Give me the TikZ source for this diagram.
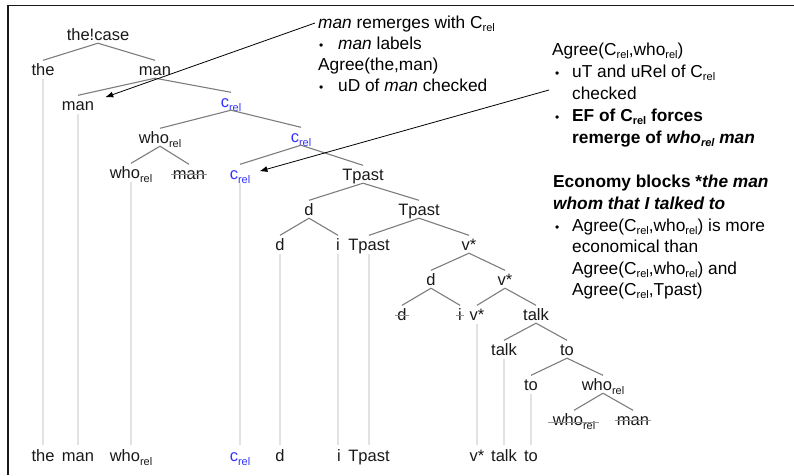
\documentclass[tikz,border=0pt]{standalone}
\usepackage{fontspec}
\setmainfont{Liberation Sans}
\usetikzlibrary{arrows.meta}
\definecolor{relblue}{RGB}{50,50,255}
\definecolor{branchgray}{RGB}{125,125,125}
\definecolor{strikegray}{RGB}{150,150,150}
\definecolor{vgray}{RGB}{226,226,226}
\definecolor{ink}{RGB}{25,25,25}
\newcommand{\tsub}[1]{\raisebox{-4.5pt}{\fontsize{11}{11}\selectfont #1}}
\newcommand{\psub}[1]{\raisebox{-3.5pt}{\fontsize{11}{11}\selectfont #1}}
\newcommand{\bul}{{\fontsize{12}{12}\selectfont\textbullet}}
\begin{document}
\begin{tikzpicture}[x=1pt,y=-1pt,
 tn/.style={font=\fontsize{16.5}{18}\selectfont, text=ink, anchor=base, inner xsep=1pt, inner ysep=0pt, text height=14.5pt, text depth=3pt},
 bluen/.style={tn, text=relblue},
 br/.style={draw=branchgray, line width=1.1pt},
 vl/.style={draw=vgray, line width=1.8pt},
 sk/.style={draw=strikegray, line width=0.8pt},
 txt/.style={font=\fontsize{17.3}{20}\selectfont, anchor=base west, inner sep=0pt, text=black},
 arr/.style={draw=black, line width=0.8pt, -{Latex[length=8pt,width=6pt]}}
]
\useasboundingbox (0,0) rectangle (794,475);
\draw[line width=1.5pt, ink] (8,475) -- (8,5.5) -- (794,5.5);

% tree nodes
\node[tn] (thecase) at (98,40) {the!case};
\node[tn] (the1) at (43,75) {the};
\node[tn] (man1) at (155,75) {man};
\node[tn] (man2) at (78,110) {man};
\node[bluen] (crel2) at (231,107) {c\tsub{rel}};
\node[tn] (who3) at (160,143) {who\tsub{rel}};
\node[bluen] (crel3) at (301,142) {c\tsub{rel}};
\node[tn] (who4) at (131,178) {who\tsub{rel}};
\node[tn] (man4) at (189,179) {man};
\node[bluen] (crel4) at (240,179) {c\tsub{rel}};
\node[tn] (tp4) at (363,180) {Tpast};
\node[tn] (d5) at (309,215) {d};
\node[tn] (tp5) at (419,215) {Tpast};
\node[tn] (d6) at (280,250) {d};
\node[tn] (i6) at (338,250) {i};
\node[tn] (tp6) at (369,250) {Tpast};
\node[tn] (v6) at (469,250) {v*};
\node[tn] (d7) at (431,285) {d};
\node[tn] (v7) at (505,285) {v*};
\node[tn] (d8) at (402,320) {d};
\node[tn] (i8) at (460,320) {i};
\node[tn] (v8) at (477,320) {v*};
\node[tn] (talk8) at (536,320) {talk};
\node[tn] (talk9) at (504,355) {talk};
\node[tn] (to9) at (567,355) {to};
\node[tn] (to10) at (531,390) {to};
\node[tn] (who10) at (603,390) {who\tsub{rel}};
\node[tn] (who11) at (574,425) {who\tsub{rel}};
\node[tn] (man11) at (633,425) {man};

% bottom row
\node[tn] (bthe) at (43,461) {the};
\node[tn] (bman) at (78,461) {man};
\node[tn] (bwho) at (131,461) {who\tsub{rel}};
\node[bluen] (bcrel) at (240,461) {c\tsub{rel}};
\node[tn] (bd) at (280,461) {d};
\node[tn] (bi) at (339,461) {i};
\node[tn] (btp) at (369,461) {Tpast};
\node[tn] (bv) at (477,461) {v*};
\node[tn] (btalk) at (504,461) {talk};
\node[tn] (bto) at (531,461) {to};

% branches
\foreach \p/\c in {thecase/the1, thecase/man1, man1/man2, man1/crel2, crel2/who3, crel2/crel3,
  who3/who4, who3/man4, crel3/crel4, crel3/tp4, tp4/d5, tp4/tp5, d5/d6, d5/i6, tp5/tp6, tp5/v6,
  v6/d7, v6/v7, d7/d8, d7/i8, v7/v8, v7/talk8, talk8/talk9, talk8/to9, to9/to10, to9/who10,
  who10/who11, who10/man11}
  \draw[br] (\p.south) -- (\c.north);

% vertical traces
\foreach \p/\c in {the1/bthe, man2/bman, who4/bwho, crel4/bcrel, d6/bd, i6/bi, tp6/btp, v8/bv, talk9/btalk, to10/bto}
  \draw[vl] ([yshift=-1pt]\p.south) -- ([yshift=1pt]\p.south |- \c.north);

% strike-throughs
\foreach \n in {man4, d8, i8, man11}
  \draw[sk] ([xshift=-1pt,yshift=4.5pt]\n.base west) -- ([xshift=1pt,yshift=4.5pt]\n.base east);
\draw[sk] ([xshift=-4pt,yshift=3pt]who11.base west) -- ([xshift=3pt,yshift=3pt]who11.base east);

% text block 1
\node[txt] (t1a) at (318,28) {\textit{man} remerges with C\psub{rel}};
\node[txt] (t1bb) at (319,49) {\bul};
\node[txt] (t1b) at (338,49) {\textit{man} labels};
\node[txt] (t1c) at (318,70) {Agree(the,man)};
\node[txt] (t1db) at (319,91) {\bul};
\node[txt] (t1d) at (338,91) {uD of \textit{man} checked};

% text block 2
\node[txt] (t2a) at (552,55) {Agree(C\psub{rel},who\psub{rel})};
\node[txt] (t2bb) at (555,77) {\bul};
\node[txt] (t2b) at (572,77) {uT and uRel of C\psub{rel}};
\node[txt] (t2c) at (572,99) {checked};
\node[txt] (t2db) at (555,121) {\bul};
\node[txt] (t2d) at (572,121) {\textbf{EF of C\psub{rel} forces}};
\node[txt] (t2e) at (572,143) {\textbf{remerge of \textit{who\psub{rel}} \textit{man}}};

% text block 3
\node[txt] (t3a) at (553,187) {\textbf{Economy blocks *\textit{the man}}};
\node[txt] (t3b) at (553,209) {\textbf{\textit{whom that I talked to}}};
\node[txt] (t3cb) at (555,231) {\bul};
\node[txt] (t3c) at (572,231) {Agree(C\psub{rel},who\psub{rel}) is more};
\node[txt] (t3d) at (572,252) {economical than};
\node[txt] (t3e) at (572,274) {Agree(C\psub{rel},who\psub{rel}) and};
\node[txt] (t3f) at (572,295) {Agree(C\psub{rel},Tpast)};

% arrows
\coordinate (a1s) at (315,23);
\coordinate (a2s) at (549,90);
\draw[arr] (a1s) -- ([xshift=10pt,yshift=7pt]man2.east);
\draw[arr] (a2s) -- ([xshift=8pt,yshift=2pt]crel4.east);
\end{tikzpicture}
\end{document}
